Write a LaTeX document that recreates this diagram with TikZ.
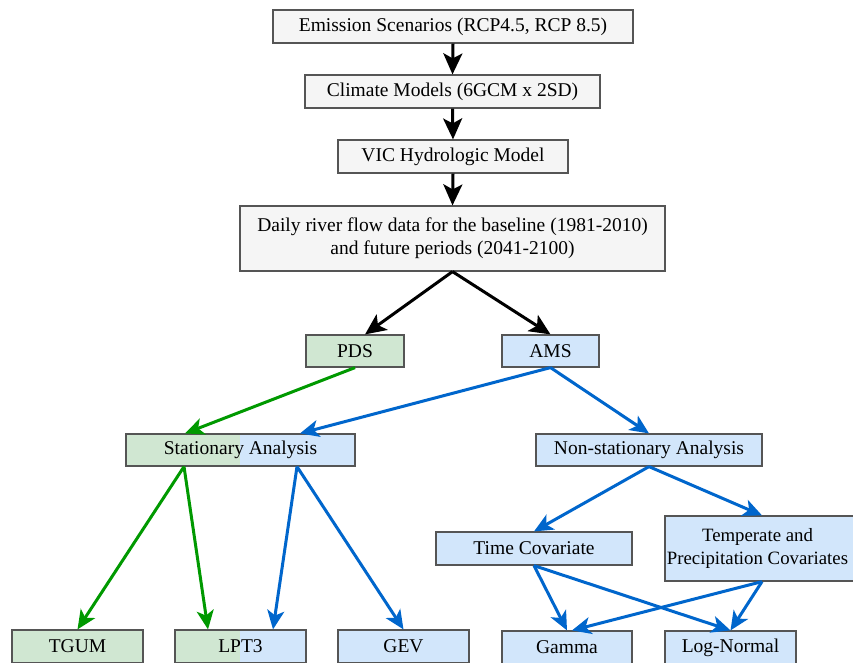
\documentclass[tikz,border=0pt]{standalone}
\usepackage{fontspec}
\setmainfont{Liberation Serif}
\usetikzlibrary{arrows.meta}
\definecolor{boxgray}{HTML}{F5F5F5}
\definecolor{boxgreen}{HTML}{D0E7D2}
\definecolor{boxblue}{HTML}{D2E6FB}
\definecolor{linegreen}{HTML}{009900}
\definecolor{lineblue}{HTML}{0066CC}
\definecolor{edgegray}{HTML}{555555}
\begin{document}
\begin{tikzpicture}[x=1pt,y=-1pt,
  box/.style={draw=edgegray,line width=1.2pt,inner sep=0pt,align=center,
    font=\fontsize{19.5}{23}\selectfont},
  gbox/.style={box,fill=boxgray},
  grbox/.style={box,fill=boxgreen},
  blbox/.style={box,fill=boxblue},
  splitbox/.style={box,fill=boxblue,path picture={\fill[boxgreen] (path picture bounding box.south west) rectangle ([xshift=#1]path picture bounding box.north);}},
  blackarrow/.style={line width=3pt,-{Stealth[length=21pt,width=19pt,inset=5pt]}},
  greenarrow/.style={draw=linegreen,line width=3pt,-{Stealth[length=19pt,width=17pt,inset=5pt]}},
  bluearrow/.style={draw=lineblue,line width=3pt,-{Stealth[length=19pt,width=17pt,inset=5pt]}}
]
\clip (0,0) rectangle (853,662);
\useasboundingbox (0,0) rectangle (853,662);
\fill[white] (0,0) rectangle (853,662);

\node[gbox,minimum width=360,minimum height=33] (em) at (453,26.5) {Emission Scenarios (RCP4.5, RCP 8.5)};
\node[gbox,minimum width=295,minimum height=33] (cm) at (452.5,91.5) {Climate Models (6GCM x 2SD)};
\node[gbox,minimum width=230,minimum height=33] (vic) at (453,156.5) {VIC Hydrologic Model};
\node[gbox,minimum width=425,minimum height=65] (daily) at (452.5,238.5) {Daily river flow data for the baseline (1981-2010)\\and future periods (2041-2100)};
\node[grbox,minimum width=98,minimum height=32] (pds) at (355,351) {PDS};
\node[blbox,minimum width=97,minimum height=32] (ams) at (550.5,351) {AMS};
\node[splitbox=-0.5,minimum width=229,minimum height=32] (sta) at (240.5,450) {Stationary Analysis};
\node[blbox,minimum width=226,minimum height=32] (ns) at (649,450) {Non-stationary Analysis};
\node[blbox,minimum width=196,minimum height=33] (tc) at (534,548.5) {Time Covariate};
\node[blbox,minimum width=194,minimum height=65] (tp) at (762,548.5) {};
\node[font=\fontsize{18.8}{23}\selectfont,align=center,inner sep=0pt] (tptext) at (757.5,548.5) {Temperate and\\Precipitation Covariates};
\node[grbox,minimum width=131,minimum height=33] (tgum) at (77.5,646.5) {TGUM};
\node[splitbox=-0.5,minimum width=131,minimum height=33] (lpt) at (240.5,646.5) {LPT3};
\node[blbox,minimum width=131,minimum height=33] (gev) at (403.5,646.5) {GEV};
\node[blbox,minimum width=130,minimum height=33] (gam) at (567,647.5) {Gamma};
\node[blbox,minimum width=131,minimum height=33] (ln) at (730.5,647.5) {Log-Normal};

\draw[blackarrow] (em.south) -- (cm.north);
\draw[blackarrow] (cm.south) -- (vic.north);
\draw[blackarrow] (vic.south) -- (daily.north);
\draw[blackarrow] (daily.south) -- ([xshift=10]pds.north);
\draw[blackarrow] (daily.south) -- (ams.north);

\draw[greenarrow] (pds.south) -- ([xshift=-55.5]sta.north);
\draw[bluearrow] (ams.south) -- ([xshift=59.5]sta.north);
\draw[bluearrow] (ams.south) -- (ns.north);

\draw[greenarrow] ([xshift=-56.5]sta.south) -- (tgum.north);
\draw[greenarrow] ([xshift=-56.5]sta.south) -- ([xshift=-32.5]lpt.north);
\draw[bluearrow] ([xshift=56.5]sta.south) -- ([xshift=32.5]lpt.north);
\draw[bluearrow] ([xshift=56.5]sta.south) -- (gev.north);

\draw[bluearrow] (ns.south) -- (tc.north);
\draw[bluearrow] (ns.south) -- (tp.north);
\draw[bluearrow] (tc.south) -- (gam.north);
\draw[bluearrow] (tc.south) -- (ln.north);
\draw[bluearrow] (tp.south) -- ([xshift=5]gam.north);
\draw[bluearrow] (tp.south) -- (ln.north);
\end{tikzpicture}
\end{document}
